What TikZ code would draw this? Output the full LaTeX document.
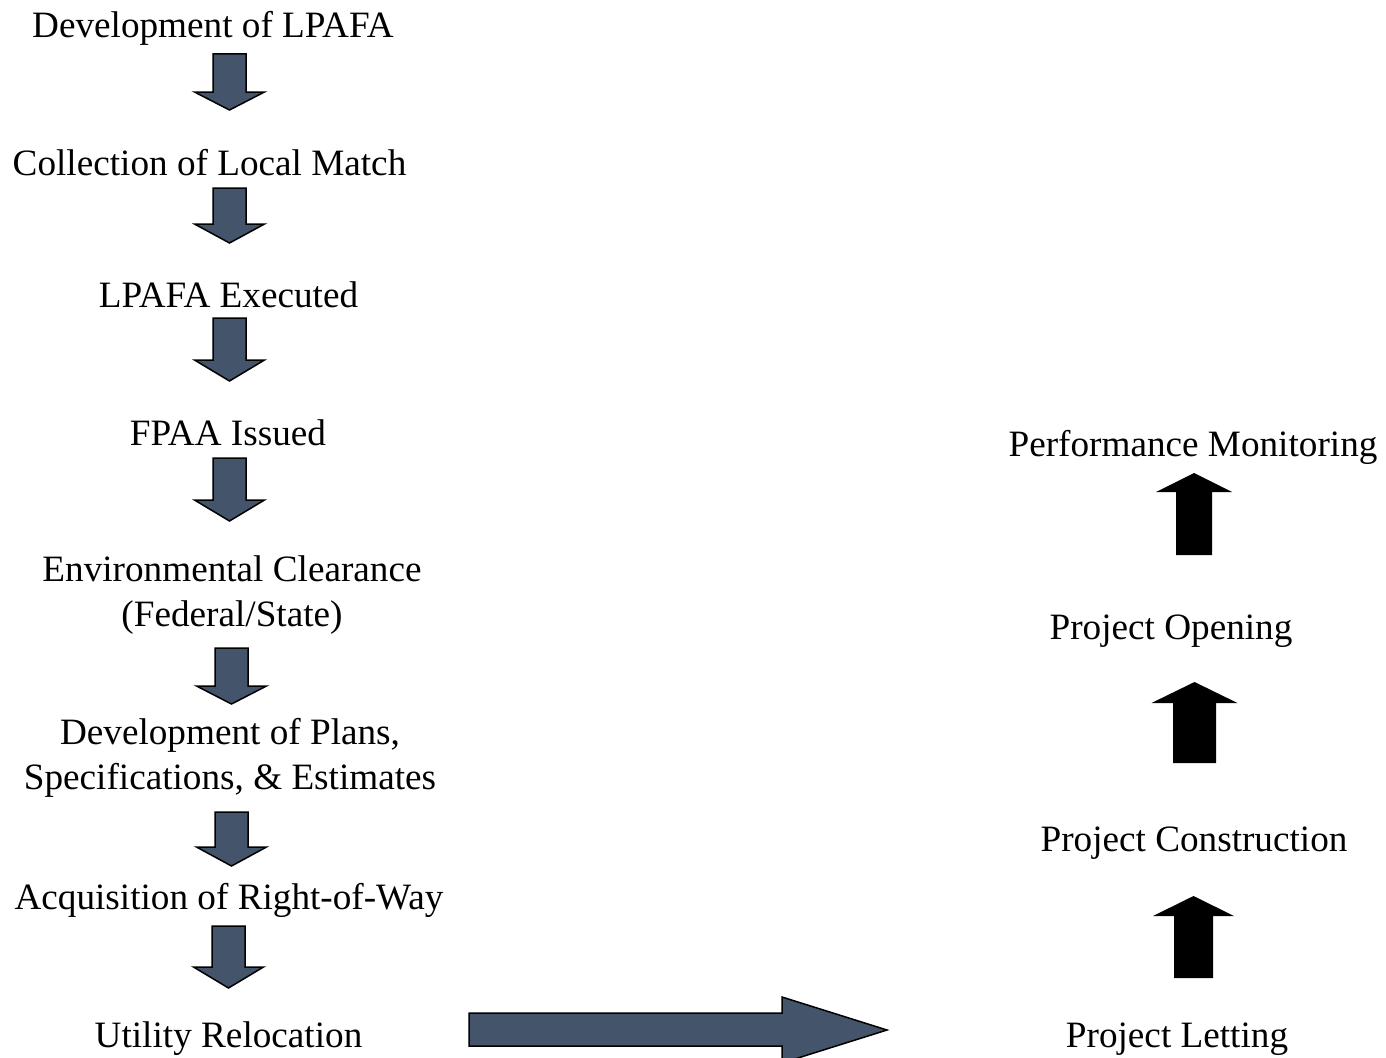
\documentclass[tikz,border=0pt]{standalone}
\usepackage{fontspec}
\setmainfont{Liberation Serif}
\usetikzlibrary{positioning}
\definecolor{slate}{RGB}{68,84,106}

% block arrows: x, top, wing, tip
\newcommand\dnarrow[4]{%
  \draw[dnarr] (#1-16.5,#2) -- (#1+16.5,#2) -- (#1+16.5,#3) -- (#1+35,#3)
     -- (#1,#4) -- (#1-35,#3) -- (#1-16.5,#3) -- cycle;}
% x, bottom, wing, tip, half shaft, half head
\newcommand\uparr[6]{%
  \fill[uparrow] (#1-#5,#2) -- (#1+#5,#2) -- (#1+#5,#3) -- (#1+#6,#3)
     -- (#1,#4) -- (#1-#6,#3) -- (#1-#5,#3) -- cycle;}

\tikzset{
  stage/.style={align=center, inner sep=0pt,
     font=\fontsize{37.2}{44.5}\selectfont},
  dnarr/.style={fill=slate, draw=black, line width=1.5pt, line join=miter},
  uparrow/.style={fill=black}
}

\begin{document}
\begin{tikzpicture}[x=1pt,y=-1pt]
   \useasboundingbox (0,0) rectangle (1386,1057);

   % left column
   \node[stage] (lpafa) at (213,28) {Development of LPAFA};
   \node[stage] (match) at (209.5,163) {Collection of Local Match};
   \node[stage] (exec) at (228.5,295) {LPAFA Executed};
   \node[stage] (fpaa) at (228,433) {FPAA Issued};
   \node[stage] (env) at (232,595) {Environmental Clearance\\(Federal/State)};
   \node[stage] (pse) at (230,758) {Development of Plans,\\Specifications, \& Estimates};
   \node[stage] (row) at (229,900) {Acquisition of Right-of-Way};
   \node[stage] (util) at (228.5,1039) {Utility Relocation};

   % right column
   \node[stage] (perf) at (1193,447) {Performance Monitoring};
   \node[stage] (open) at (1171,631) {Project Opening};
   \node[stage] (constr) at (1194,843) {Project Construction};
   \node[stage] (let) at (1177,1039) {Project Letting};

   \dnarrow{229.5}{54}{92}{110}
   \dnarrow{229.5}{188}{224}{243}
   \dnarrow{229.5}{318}{360}{381}
   \dnarrow{229.5}{458}{500}{521}
   \dnarrow{231.5}{648}{686}{704}
   \dnarrow{231.5}{812}{847}{866}
   \dnarrow{228.5}{926}{967}{988}

   \uparr{1194}{555}{492}{473}{18}{38}
   \uparr{1194.5}{763}{703}{682}{21.5}{43}
   \uparr{1193.5}{978}{916}{896}{19.5}{40.5}

   % long arrow to the letting
   \draw[dnarr] (469,1013) -- (782,1013) -- (782,997) -- (887,1030)
      -- (782,1063) -- (782,1046) -- (469,1046) -- cycle;

\end{tikzpicture}
\end{document}
